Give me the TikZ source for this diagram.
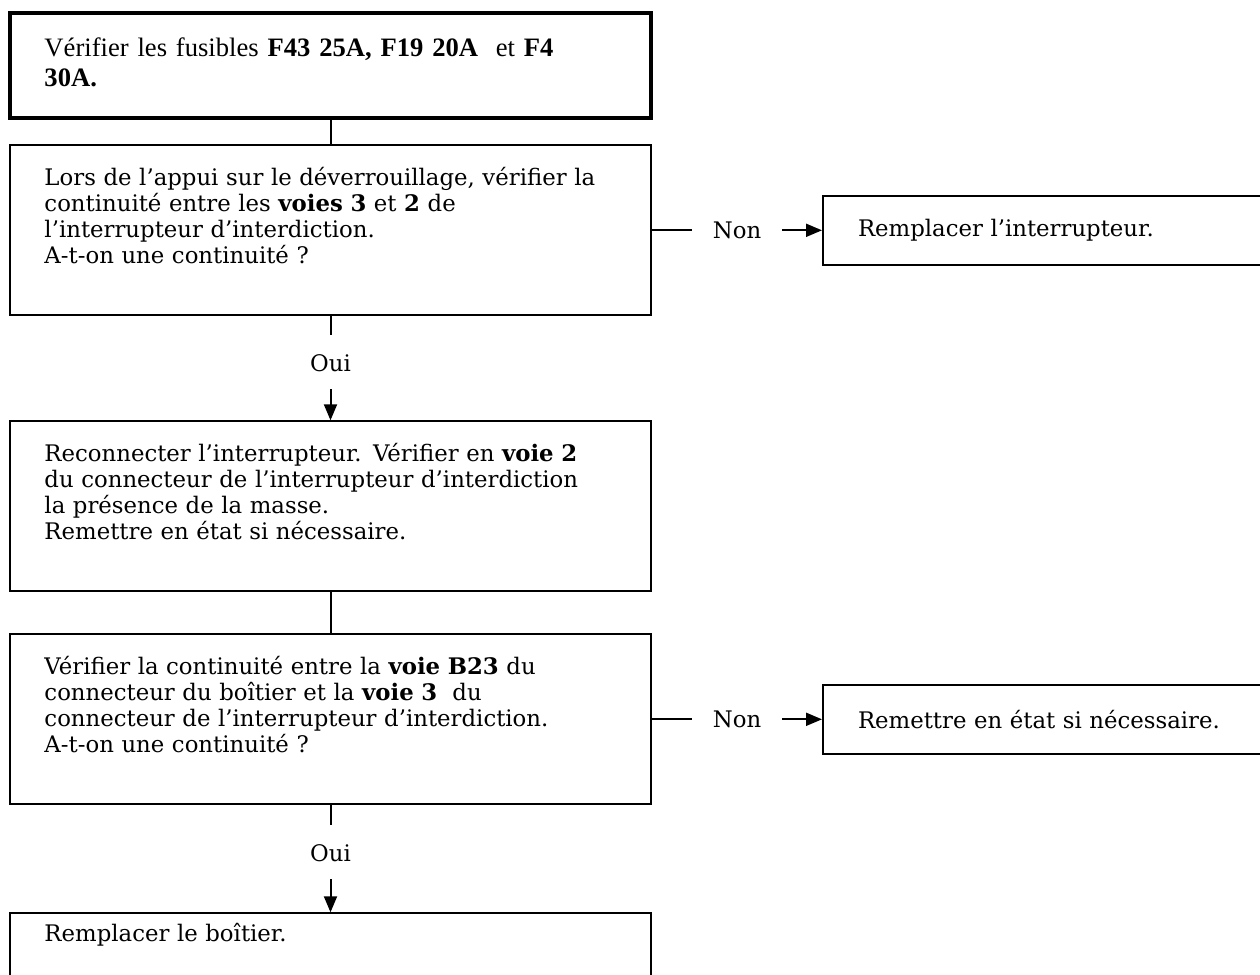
\documentclass[tikz,border=0pt]{standalone}
\usepackage{fontspec}
\setmainfont{DejaVu Serif}
\newfontfamily\fusefont{Liberation Serif}
\usetikzlibrary{arrows.meta, positioning, calc}
\tikzset{
  stepbox/.style={rectangle, draw, line width=1pt, align=left,
                  text width=286pt, inner xsep=17.25pt, inner ysep=0pt,
                  text height=20pt, text depth=65pt,
                  font=\fontsize{11.4pt}{13pt}\selectfont},
  firstbox/.style={stepbox, line width=2.3pt,
                   text height=21.5pt, text depth=31pt,
                   font=\fusefont\fontsize{13.3pt}{15pt}\selectfont},
  endbox/.style={stepbox, text height=14pt, text depth=70pt},
  sidebox/.style={rectangle, draw, line width=1pt, align=left,
                  text width=205pt, inner xsep=17.5pt,
                  minimum height=34.5pt,
                  font=\fontsize{11.4pt}{13pt}\selectfont},
  lbl/.style={inner sep=0pt, font=\fontsize{11.4pt}{13pt}\selectfont},
  ouilbl/.style={lbl, text height=18pt, text depth=8.5pt},
  nonlbl/.style={lbl, minimum width=45pt},
  link/.style={line width=1pt},
  arr/.style={link, -{Triangle[length=8pt, width=6.5pt]}},
}

\begin{document}
\begin{tikzpicture}[x=0.5pt, y=-0.5pt, node distance=0pt]

  \useasboundingbox (0,0) rectangle (1260,975);

  % main column
  \node[firstbox] (b1) at (330.5,65.5)
    {Vérifier les fusibles \textbf{F43 25A, F19 20A}\ \ et \textbf{F4}\\
     \textbf{30A.}};

  \node[stepbox, below=12pt of b1] (b2)
    {Lors de l’appui sur le déverrouillage, vérifier la\\
     continuité entre les \textbf{voies 3} et \textbf{2} de\\
     l’interrupteur d’interdiction.\\
     A-t-on une continuité ?};

  \node[ouilbl, below=9.5pt of b2] (oui1) {Oui};

  \node[stepbox, below=52pt of b2] (b3)
    {Reconnecter l’interrupteur. Vérifier en \textbf{voie 2}\\
     du connecteur de l’interrupteur d’interdiction\\
     la présence de la masse.\\
     Remettre en état si nécessaire.};

  \node[stepbox, below=20.5pt of b3] (b4)
    {Vérifier la continuité entre la \textbf{voie B23} du\\
     connecteur du boîtier et la \textbf{voie 3}\ \ du\\
     connecteur de l’interrupteur d’interdiction.\\
     A-t-on une continuité ?};

  \node[ouilbl, below=10pt of b4] (oui2) {Oui};

  \node[endbox, below=53.5pt of b4] (b5) {Remplacer le boîtier.};

  % side branches
  \node[sidebox, right=85pt of b2] (r1) {Remplacer l’interrupteur.};
  \node[sidebox, right=85pt of b4] (r2) {Remettre en état si nécessaire.};

  \node[nonlbl] (non1) at ($(b2.east)!0.5!(r1.west)$) {Non};
  \node[nonlbl] (non2) at ($(b4.east)!0.5!(r2.west)$) {Non};

  % links
  \draw[link] (b1) -- (b2);
  \draw[link] (b2) -- (oui1);
  \draw[arr] (oui1) -- (b3);
  \draw[link] (b3) -- (b4);
  \draw[link] (b4) -- (oui2);
  \draw[arr] (oui2) -- (b5);
  \draw[link] (b2.east) -- (non1.west);
  \draw[arr] (non1.east) -- (r1.west);
  \draw[link] (b4.east) -- (non2.west);
  \draw[arr] (non2.east) -- (r2.west);

\end{tikzpicture}
\end{document}
